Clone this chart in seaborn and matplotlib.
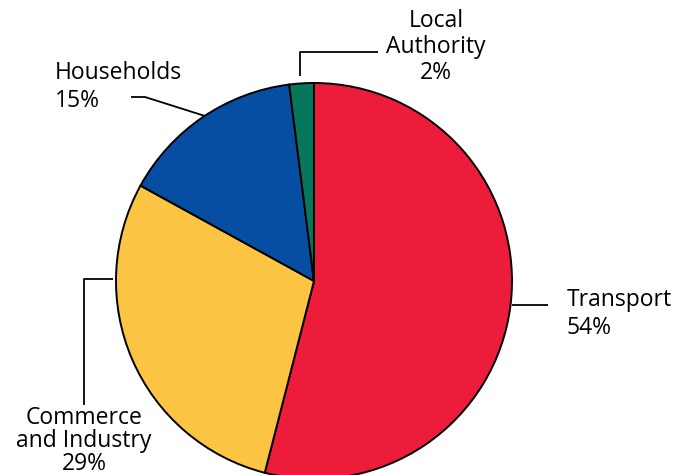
import matplotlib
matplotlib.use("Agg")
import matplotlib.pyplot as plt
import seaborn as sns

categories = ["Transport", "Commerce\nand Industry", "Households", "Local\nAuthority"]
values = [54, 29, 15, 2]
pct_labels = ["54%", "29%", "15%", "2%"]
colors = ["#ED1C3A", "#FBC443", "#054EA2", "#06775A"]

sns.set_theme(style="white")
plt.rcParams['font.family'] = ['Open Sans', 'DejaVu Sans']
plt.rcParams['text.color'] = 'black'

W, H = 691, 475
fig = plt.figure(figsize=(W / 100, H / 100), dpi=100)
ax = fig.add_axes([0, 0, 1, 1])

def Y(p):
    return H - p

cx, cy, r = 314, 281, 198
ax.pie(values, colors=colors, startangle=90, counterclock=False,
       center=(cx, Y(cy)), radius=r,
       wedgeprops=dict(edgecolor="black", linewidth=1.4))
ax.set_xlim(0, W)
ax.set_ylim(0, H)
ax.set_aspect('auto')
ax.axis('off')

fs = 16.5
lk = dict(color="black", lw=1.3, solid_capstyle="butt")
# Transport
ax.plot([512, 548], [Y(305), Y(305)], **lk)
ax.text(567, Y(314), categories[0] + "\n" + pct_labels[0], fontsize=fs,
        ha="left", va="center", linespacing=1.18, color="black")
# Commerce and Industry
ax.plot([113, 84, 84], [Y(279), Y(279), Y(405)], **lk)
ax.text(84, Y(441), categories[1] + "\n" + pct_labels[1], fontsize=fs,
        ha="center", va="center", linespacing=0.92, color="black")
# Households
ax.plot([131, 145, 205], [Y(97), Y(97), Y(116)], **lk)
ax.text(55, Y(87), categories[2] + "\n" + pct_labels[2], fontsize=fs,
        ha="left", va="center", linespacing=1.18, color="black")
# Local Authority
ax.plot([300, 300, 378], [Y(76), Y(52), Y(52)], **lk)
ax.text(436, Y(47), categories[3] + "\n" + pct_labels[3], fontsize=fs,
        ha="center", va="center", linespacing=1.09, color="black")

fig.savefig("out.png", dpi=100)
